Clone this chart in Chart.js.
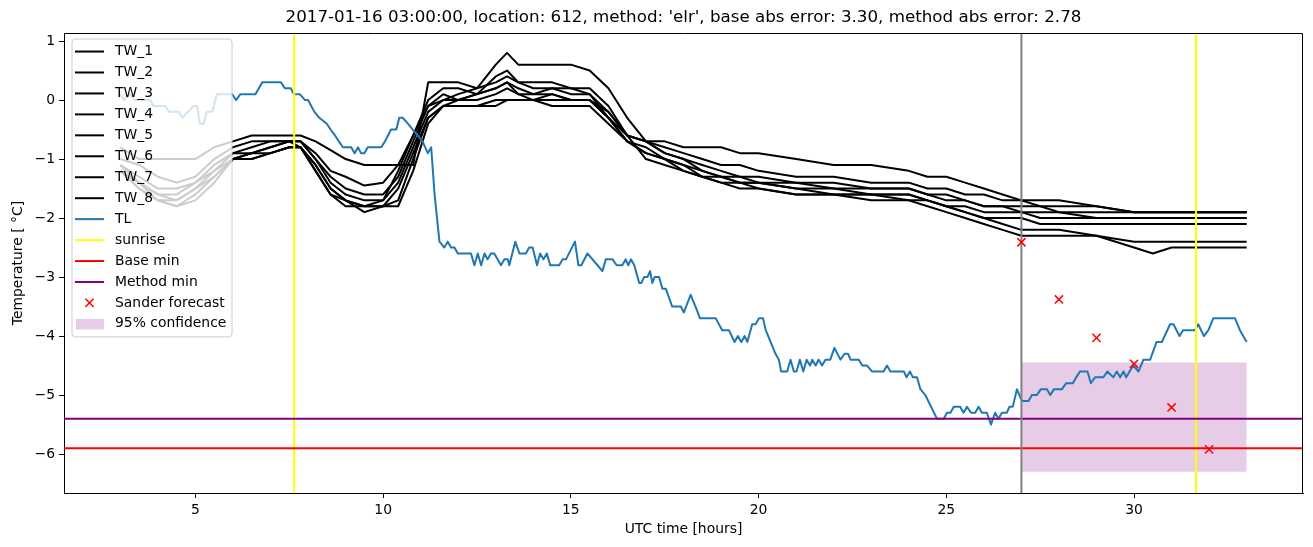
<!DOCTYPE html>
<html><head><meta charset="utf-8">
<script src="https://cdn.jsdelivr.net/npm/chart.js@4.4.0/dist/chart.umd.min.js"></script>
<style>html,body{margin:0;padding:0;background:#fff}canvas{display:block}</style>
</head><body>
<canvas id="c" width="1313" height="547"></canvas>
<script>
// ---------------- data ----------------
const titleText = "2017-01-16 03:00:00, location: 612, method: 'elr', base abs error: 3.30, method abs error: 2.78";
const xTitle = "UTC time [hours]";
const yTitle = "Temperature [ \u00B0C]";
const xTicks = [5, 10, 15, 20, 25, 30];
const yTicks = [-6, -5, -4, -3, -2, -1, 0, 1];
const xRange = [1.5, 34.5];
const yRange = [-6.66, 1.136];

const twLabels = ["TW_1", "TW_2", "TW_3", "TW_4", "TW_5", "TW_6", "TW_7", "TW_8"];
const twHours = [3.0, 3.5, 4.0, 4.5, 5.0, 5.5, 6.0, 6.5, 7.0, 7.5, 7.8, 8.2, 8.6, 9.0, 9.5, 10.0, 10.4, 10.8, 11.2, 11.6,
  12.0, 12.5, 13.0, 13.3, 13.6, 14.0, 14.5, 15.0, 15.5, 16.0, 16.5, 17.0, 17.5, 18.0, 18.5, 19.0, 19.5, 20.0, 21.0, 22.0,
  23.0, 24.0, 24.5, 25.0, 25.5, 26.0, 26.5, 27.0, 27.5, 28.0, 29.0, 30.0, 30.5, 31.0, 32.0, 33.0];
const tw1 = [-0.8, -1.0, -1.0, -1.0, -1.0, -0.8, -0.7, -0.6, -0.6, -0.6, -0.6, -0.7, -0.85, -1.0, -1.1, -1.1, -1.1, -1.1, 0.3, 0.3,
  0.3, 0.2, 0.6, 0.8, 0.6, 0.6, 0.6, 0.6, 0.5, 0.2, -0.3, -0.7, -0.7, -0.8, -0.8, -0.8, -0.9, -0.9, -1.0, -1.1,
  -1.1, -1.2, -1.3, -1.3, -1.4, -1.5, -1.6, -1.7, -1.7, -1.7, -1.8, -1.9, -1.9, -1.9, -1.9, -1.9];
const tw2 = [-1.0, -1.1, -1.3, -1.4, -1.3, -1.0, -0.8, -0.7, -0.7, -0.7, -0.7, -0.9, -1.2, -1.3, -1.45, -1.4, -1.1, -0.6, 0.0, 0.2,
  0.2, 0.1, 0.4, 0.5, 0.3, 0.3, 0.3, 0.2, 0.2, -0.1, -0.6, -0.7, -0.8, -0.9, -1.0, -1.1, -1.1, -1.2, -1.3, -1.3,
  -1.4, -1.4, -1.5, -1.5, -1.6, -1.6, -1.7, -1.7, -1.8, -1.8, -1.8, -1.9, -1.9, -1.9, -1.9, -1.9];
const tw3 = [-1.1, -1.3, -1.5, -1.5, -1.4, -1.1, -0.9, -0.8, -0.7, -0.7, -0.7, -1.0, -1.3, -1.5, -1.6, -1.6, -1.3, -0.7, -0.1, 0.0,
  0.1, 0.2, 0.3, 0.4, 0.3, 0.2, 0.2, 0.2, 0.1, -0.2, -0.6, -0.7, -0.9, -1.0, -1.1, -1.2, -1.3, -1.3, -1.4, -1.4,
  -1.5, -1.5, -1.6, -1.6, -1.7, -1.8, -1.8, -1.9, -1.9, -1.9, -2.0, -2.0, -2.0, -2.0, -2.0, -2.0];
const tw4 = [-1.1, -1.4, -1.6, -1.6, -1.4, -1.2, -0.9, -0.9, -0.8, -0.7, -0.7, -1.0, -1.4, -1.6, -1.7, -1.7, -1.4, -0.8, -0.2, 0.0,
  0.0, 0.1, 0.2, 0.3, 0.2, 0.1, 0.2, 0.1, 0.1, -0.3, -0.6, -0.7, -0.9, -1.0, -1.2, -1.3, -1.3, -1.4, -1.4, -1.5,
  -1.5, -1.5, -1.6, -1.7, -1.7, -1.8, -1.8, -1.8, -1.8, -1.9, -1.9, -1.9, -1.9, -1.9, -1.9, -1.9];
const tw5 = [-1.2, -1.4, -1.6, -1.7, -1.5, -1.2, -1.0, -0.9, -0.8, -0.7, -0.8, -1.1, -1.5, -1.7, -1.8, -1.7, -1.2, -0.6, -0.1, 0.1,
  0.0, 0.0, 0.1, 0.2, 0.1, 0.0, 0.1, 0.0, 0.0, -0.3, -0.7, -0.8, -1.0, -1.1, -1.2, -1.3, -1.4, -1.4, -1.5, -1.5,
  -1.6, -1.6, -1.7, -1.8, -1.8, -1.9, -1.9, -1.9, -2.0, -2.0, -2.0, -2.0, -2.0, -2.0, -2.0, -2.0];
const tw6 = [-1.2, -1.5, -1.7, -1.7, -1.5, -1.3, -1.0, -0.9, -0.9, -0.8, -0.8, -1.1, -1.5, -1.7, -1.9, -1.8, -1.5, -0.9, -0.3, -0.1,
  -0.1, -0.1, -0.1, 0.0, 0.0, 0.0, -0.1, -0.1, -0.1, -0.4, -0.7, -0.9, -1.0, -1.1, -1.3, -1.4, -1.4, -1.5, -1.6, -1.6,
  -1.6, -1.7, -1.7, -1.8, -1.9, -2.0, -2.0, -2.0, -2.1, -2.1, -2.1, -2.1, -2.1, -2.1, -2.1, -2.1];
const tw7 = [-1.2, -1.5, -1.7, -1.8, -1.6, -1.3, -1.0, -1.0, -0.9, -0.8, -0.8, -1.2, -1.6, -1.7, -1.8, -1.8, -1.7, -1.0, -0.3, -0.1,
  0.0, 0.1, 0.2, 0.3, 0.1, 0.1, 0.1, 0.0, 0.0, -0.2, -0.6, -1.0, -1.1, -1.2, -1.3, -1.3, -1.4, -1.4, -1.5, -1.6,
  -1.6, -1.6, -1.7, -1.8, -1.9, -2.0, -2.1, -2.2, -2.2, -2.2, -2.3, -2.4, -2.4, -2.4, -2.4, -2.4];
const tw8 = [-1.1, -1.4, -1.7, -1.8, -1.7, -1.4, -1.0, -1.0, -0.9, -0.8, -0.8, -1.2, -1.6, -1.8, -1.8, -1.8, -1.8, -1.2, -0.4, -0.1,
  -0.1, -0.1, 0.0, 0.0, 0.0, 0.0, 0.0, 0.0, 0.0, -0.3, -0.7, -0.9, -1.0, -1.2, -1.3, -1.4, -1.5, -1.5, -1.6, -1.6,
  -1.7, -1.7, -1.8, -1.9, -2.0, -2.1, -2.2, -2.3, -2.3, -2.3, -2.3, -2.5, -2.6, -2.5, -2.5, -2.5];

const tlHours = [3.0, 3.1, 3.25, 3.38, 3.8, 3.88, 4.2, 4.3, 4.55, 4.66, 4.8, 4.95, 5.04, 5.12, 5.22, 5.3, 5.45, 5.57, 5.98, 6.08,
  6.2, 6.6, 6.78, 7.28, 7.38, 7.54, 7.62, 7.78, 7.92, 8.0, 8.17, 8.3, 8.5, 8.6, 8.72, 8.82, 8.93, 9.15, 9.24, 9.33,
  9.41, 9.5, 9.59, 9.95, 10.05, 10.13, 10.21, 10.35, 10.43, 10.52, 10.66, 10.79, 10.92, 11.05, 11.19, 11.28, 11.37, 11.5, 11.63, 11.72,
  11.81, 11.9, 11.99, 12.34, 12.43, 12.52, 12.61, 12.7, 12.78, 12.87, 12.96, 13.14, 13.23, 13.32, 13.36, 13.52, 13.63, 13.8, 13.89, 13.98,
  14.1, 14.18, 14.27, 14.36, 14.45, 14.69, 14.78, 14.87, 15.11, 15.2, 15.28, 15.44, 15.71, 15.84, 15.93, 16.11, 16.22, 16.37, 16.46, 16.53,
  16.6, 16.69, 16.82, 16.88, 16.95, 17.04, 17.11, 17.17, 17.23, 17.35, 17.44, 17.53, 17.7, 17.93, 18.01, 18.19, 18.32, 18.44, 18.86, 19.03,
  19.21, 19.36, 19.45, 19.54, 19.63, 19.7, 19.83, 19.92, 20.01, 20.12, 20.19, 20.32, 20.45, 20.54, 20.6, 20.76, 20.85, 20.94, 21.01, 21.1,
  21.19, 21.28, 21.37, 21.43, 21.52, 21.6, 21.69, 21.78, 21.91, 22.02, 22.18, 22.29, 22.38, 22.45, 22.67, 22.76, 22.89, 23.02, 23.33, 23.42,
  23.51, 23.87, 23.94, 24.03, 24.11, 24.22, 24.31, 24.44, 24.75, 24.93, 25.02, 25.11, 25.2, 25.37, 25.46, 25.55, 25.66, 25.77, 25.86, 25.95,
  26.08, 26.19, 26.3, 26.39, 26.48, 26.61, 26.68, 26.77, 26.88, 27.01, 27.19, 27.28, 27.41, 27.52, 27.68, 27.77, 27.87, 28.08, 28.19, 28.37,
  28.46, 28.56, 28.76, 28.85, 28.96, 29.18, 29.29, 29.45, 29.54, 29.63, 29.72, 29.79, 29.88, 29.98, 30.12, 30.25, 30.43, 30.6, 30.74, 30.96,
  31.05, 31.21, 31.31, 31.62, 31.71, 31.86, 31.98, 32.11, 32.69, 32.82, 33.0];
const tlTemps = [0.1, 0.0, 0.1, 0.0, 0.0, -0.1, -0.1, -0.2, -0.2, -0.3, -0.2, -0.1, -0.1, -0.4, -0.4, -0.2, -0.2, 0.1, 0.1, 0.0,
  0.1, 0.1, 0.3, 0.3, 0.2, 0.2, 0.1, 0.1, 0.0, 0.0, -0.2, -0.3, -0.4, -0.5, -0.6, -0.7, -0.8, -0.8, -0.9, -0.8,
  -0.9, -0.9, -0.8, -0.8, -0.7, -0.6, -0.5, -0.5, -0.3, -0.3, -0.4, -0.5, -0.6, -0.7, -0.9, -0.8, -1.6, -2.4, -2.5, -2.4,
  -2.5, -2.5, -2.6, -2.6, -2.8, -2.6, -2.8, -2.6, -2.7, -2.6, -2.6, -2.8, -2.7, -2.7, -2.8, -2.4, -2.6, -2.6, -2.5, -2.5,
  -2.8, -2.6, -2.7, -2.6, -2.8, -2.8, -2.7, -2.7, -2.4, -2.8, -2.8, -2.6, -2.8, -2.9, -2.7, -2.7, -2.8, -2.8, -2.7, -2.8,
  -2.7, -2.8, -3.1, -3.1, -3.0, -3.0, -2.9, -3.1, -3.0, -3.0, -3.2, -3.2, -3.5, -3.5, -3.6, -3.3, -3.5, -3.7, -3.7, -3.9,
  -3.9, -4.1, -4.0, -4.1, -4.0, -4.1, -3.8, -3.8, -3.7, -3.7, -3.9, -4.1, -4.3, -4.4, -4.6, -4.6, -4.4, -4.6, -4.6, -4.4,
  -4.6, -4.4, -4.5, -4.4, -4.5, -4.4, -4.5, -4.4, -4.4, -4.2, -4.4, -4.3, -4.3, -4.4, -4.4, -4.5, -4.5, -4.6, -4.6, -4.5,
  -4.6, -4.6, -4.7, -4.6, -4.7, -4.7, -4.9, -5.0, -5.4, -5.4, -5.3, -5.3, -5.2, -5.2, -5.3, -5.2, -5.3, -5.3, -5.2, -5.3,
  -5.3, -5.5, -5.3, -5.4, -5.3, -5.3, -5.2, -5.2, -4.9, -5.1, -5.1, -5.0, -5.0, -4.9, -4.9, -5.0, -4.9, -4.9, -4.8, -4.8,
  -4.7, -4.6, -4.6, -4.8, -4.7, -4.7, -4.6, -4.7, -4.6, -4.7, -4.6, -4.7, -4.6, -4.5, -4.6, -4.4, -4.4, -4.1, -4.1, -3.8,
  -3.8, -4.0, -3.9, -3.9, -3.8, -4.0, -3.9, -3.7, -3.7, -3.9, -4.1];

const sunriseHours = [7.63, 31.65];
const forecastHour = 27.0;
const baseMin = -5.9;
const methodMin = -5.4;
const sanderHours = [27, 28, 29, 30, 31, 32];
const sanderTemps = [-2.41, -3.38, -4.03, -4.47, -5.21, -5.92];
const confHours = [27, 33];
const confLow = -6.3;
const confHigh = -4.45;

// ---------------- build ----------------
const FONT = "'DejaVu Sans', sans-serif";
const pts = (xs, ys) => xs.map((x, i) => ({x: x, y: ys[i]}));
const hline = (v) => xRange.map(x => ({x: x, y: v}));
const vline = (h) => yRange.map(y => ({x: h, y: y}));

const twSeries = [tw1, tw2, tw3, tw4, tw5, tw6, tw7, tw8];
const datasets = [];
datasets.push({label: '_confLow', data: confHours.map(x => ({x: x, y: confLow})), borderWidth: 0, pointRadius: 0, order: 20, fill: false});
datasets.push({label: '95% confidence', data: confHours.map(x => ({x: x, y: confHigh})), borderWidth: 0, pointRadius: 0, order: 20,
  fill: '-1', backgroundColor: 'rgba(128,0,128,0.2)', borderColor: 'rgba(0,0,0,0)', legendKind: 'patch', legendRank: 13});
twSeries.forEach((s, i) => {
  datasets.push({label: twLabels[i], data: pts(twHours, s), borderColor: '#000000', borderWidth: 2, pointRadius: 0, order: 10,
    legendKind: 'line', legendRank: i});
});
datasets.push({label: 'TL', data: pts(tlHours, tlTemps), borderColor: '#1f77b4', borderWidth: 2, pointRadius: 0, order: 9,
  legendKind: 'line', legendRank: 8});
sunriseHours.forEach((h, i) => {
  datasets.push({label: i === 0 ? 'sunrise' : '_sunrise2', data: vline(h), borderColor: '#ffff00', borderWidth: 2, pointRadius: 0, order: 8,
    legendKind: i === 0 ? 'line' : undefined, legendRank: 9});
});
datasets.push({label: 'Base min', data: hline(baseMin), borderColor: '#ff0000', borderWidth: 2, pointRadius: 0, order: 7, legendKind: 'line', legendRank: 10});
datasets.push({label: 'Method min', data: hline(methodMin), borderColor: '#800080', borderWidth: 2, pointRadius: 0, order: 7, legendKind: 'line', legendRank: 11});
datasets.push({label: '_forecast', data: vline(forecastHour), borderColor: '#808080', borderWidth: 2, pointRadius: 0, order: 6});
datasets.push({label: 'Sander forecast', data: pts(sanderHours, sanderTemps), showLine: false, pointStyle: 'crossRot', pointRadius: 5.8,
  pointBorderColor: '#ff0000', pointBackgroundColor: '#ff0000', pointBorderWidth: 1.5, borderColor: '#ff0000', order: 1,
  legendKind: 'marker', legendRank: 12});

const framePlugin = {
  id: 'frame',
  afterDatasetsDraw(chart) {
    const {ctx, chartArea: a} = chart;
    ctx.save();
    ctx.strokeStyle = '#000'; ctx.lineWidth = 1;
    ctx.beginPath();
    const t = Math.round(a.top) + 0.5, r = Math.round(a.right) - 0.5;
    ctx.moveTo(Math.round(a.left), t); ctx.lineTo(r, t); ctx.lineTo(r, Math.round(a.bottom));
    ctx.stroke();
    ctx.restore();
  }
};

const legendPlugin = {
  id: 'mplLegend',
  afterDraw(chart) {
    const {ctx, chartArea: a} = chart;
    const items = chart.data.datasets.filter(d => d.legendKind).sort((p, q) => p.legendRank - q.legendRank);
    const bx = a.left + 8, by = a.top + 6, bw = 160, rowH = 20.95;
    const bh = 12.5 + (items.length - 1) * rowH + 13;
    ctx.save();
    const rad = 3;
    ctx.beginPath();
    ctx.moveTo(bx + rad, by); ctx.lineTo(bx + bw - rad, by); ctx.quadraticCurveTo(bx + bw, by, bx + bw, by + rad);
    ctx.lineTo(bx + bw, by + bh - rad); ctx.quadraticCurveTo(bx + bw, by + bh, bx + bw - rad, by + bh);
    ctx.lineTo(bx + rad, by + bh); ctx.quadraticCurveTo(bx, by + bh, bx, by + bh - rad);
    ctx.lineTo(bx, by + rad); ctx.quadraticCurveTo(bx, by, bx + rad, by);
    ctx.closePath();
    ctx.fillStyle = 'rgba(255,255,255,0.8)'; ctx.fill();
    ctx.strokeStyle = '#cccccc'; ctx.lineWidth = 1; ctx.stroke();
    ctx.font = '13.9px ' + FONT; ctx.textBaseline = 'middle'; ctx.textAlign = 'left';
    items.forEach((d, i) => {
      const cy = by + 12.5 + i * rowH;
      const hx0 = bx + 3, hx1 = bx + 32;
      if (d.legendKind === 'line') {
        ctx.strokeStyle = d.borderColor; ctx.lineWidth = 2;
        ctx.beginPath(); ctx.moveTo(hx0, cy); ctx.lineTo(hx1, cy); ctx.stroke();
      } else if (d.legendKind === 'marker') {
        ctx.strokeStyle = d.pointBorderColor; ctx.lineWidth = 1.5;
        const s = 4.1, cx = (hx0 + hx1) / 2;
        ctx.beginPath(); ctx.moveTo(cx - s, cy - s); ctx.lineTo(cx + s, cy + s);
        ctx.moveTo(cx - s, cy + s); ctx.lineTo(cx + s, cy - s); ctx.stroke();
      } else if (d.legendKind === 'patch') {
        ctx.fillStyle = d.backgroundColor;
        ctx.fillRect(hx0 + 1, cy - 5, hx1 - hx0 - 1, 10.5);
      }
      ctx.fillStyle = '#000';
      ctx.fillText(d.label, bx + 43, cy);
    });
    ctx.restore();
  }
};

const fmt = (v) => (v < 0 ? '\u2212' + Math.abs(v) : String(v));

new Chart(document.getElementById('c'), {
  type: 'line',
  data: {datasets: datasets},
  plugins: [framePlugin, legendPlugin],
  options: {
    responsive: false,
    animation: false,
    events: [],
    layout: {padding: {left: 0, right: 10, top: 0, bottom: 0}},
    elements: {line: {tension: 0, borderJoinStyle: 'round'}},
    plugins: {
      legend: {display: false},
      tooltip: {enabled: false},
      title: {display: true, text: titleText, fullSize: false, color: '#000',
        font: {family: FONT, size: 16.7, weight: 'normal'}, padding: {top: 8, bottom: 5}}
    },
    scales: {
      x: {
        type: 'linear', min: xRange[0], max: xRange[1],
        afterBuildTicks: (ax) => { ax.ticks = xTicks.map(v => ({value: v})); },
        afterFit: (ax) => { ax.height = 54; },
        grid: {drawOnChartArea: false, drawTicks: true, tickLength: 5, color: '#000', lineWidth: 1},
        border: {display: true, color: '#000', width: 1},
        ticks: {color: '#000', font: {family: FONT, size: 13.9}, padding: 4, maxRotation: 0, autoSkip: false, callback: fmt},
        title: {display: true, text: xTitle, color: '#000', font: {family: FONT, size: 13.9}, padding: {top: 0, bottom: 9.7}}
      },
      y: {
        type: 'linear', min: yRange[0], max: yRange[1],
        afterBuildTicks: (ax) => { ax.ticks = yTicks.map(v => ({value: v})); },
        afterFit: (ax) => { ax.width = 64; },
        grid: {drawOnChartArea: false, drawTicks: true, tickLength: 5, color: '#000', lineWidth: 1},
        border: {display: true, color: '#000', width: 1},
        ticks: {color: '#000', font: {family: FONT, size: 13.9}, padding: 4, autoSkip: false, callback: fmt},
        title: {display: true, text: yTitle, color: '#000', font: {family: FONT, size: 13.9}, padding: {top: 9.7, bottom: 0}}
      }
    }
  }
});
</script>
</body></html>
